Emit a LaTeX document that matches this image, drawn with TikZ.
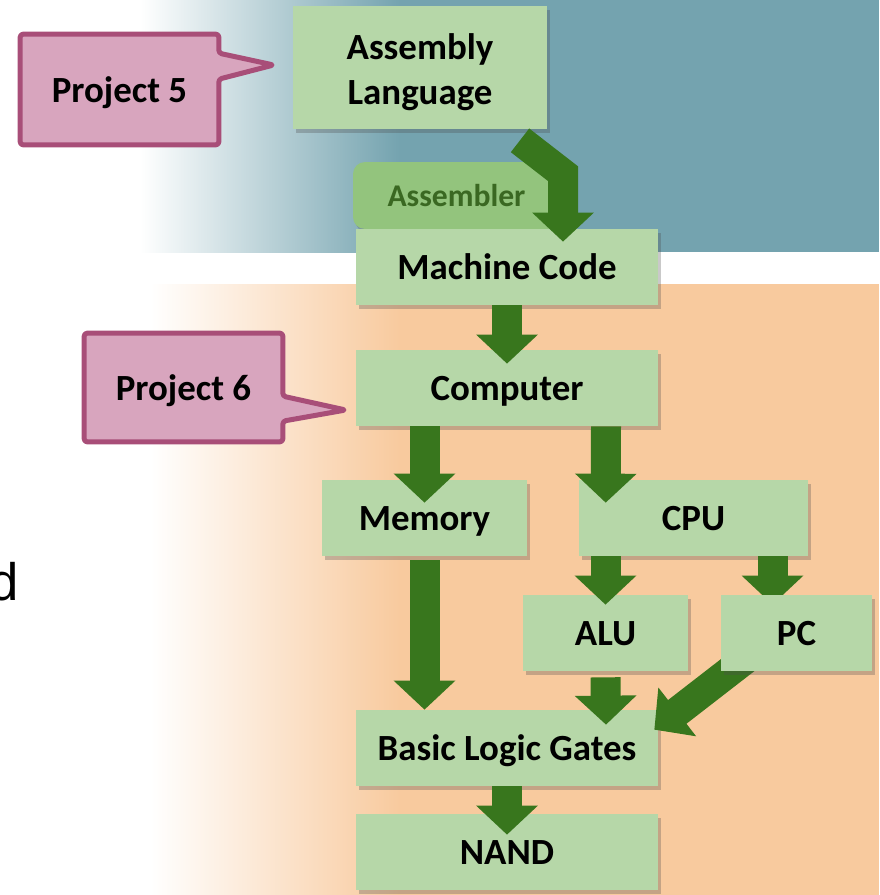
\documentclass[tikz,border=0pt]{standalone}
\usepackage{fontspec}
\setmainfont{Carlito}
\newfontfamily\slidefont{Liberation Sans}
\usepackage{tikz}
\usetikzlibrary{arrows.meta,positioning,calc,shadows}
\definecolor{hwteal}{RGB}{116,163,175}
\definecolor{hwpeach}{RGB}{248,202,158}
\definecolor{hwgreen}{RGB}{182,215,168}
\definecolor{hwasm}{RGB}{147,196,125}
\definecolor{hwasmtext}{RGB}{58,104,34}
\definecolor{hwarrow}{RGB}{56,118,29}
\definecolor{hwpink}{RGB}{216,165,190}
\definecolor{hwpinkedge}{RGB}{168,78,120}
\pgfdeclarelayer{back}
\pgfdeclarelayer{front}
\pgfsetlayers{back,main,front}
\tikzset{
  hwbox/.style={
    fill=hwgreen, minimum height=1.52cm, inner sep=0pt, align=center,
    font=\fontsize{21}{25.6}\selectfont\bfseries,
    drop shadow={shadow xshift=0.06cm, shadow yshift=-0.08cm, opacity=0.3, fill=black!70}
  },
  oneline/.style={hwbox, text height=20pt, text depth=5.25pt},
  asmb/.style={
    fill=hwasm, rounded corners=0.24cm, minimum height=1.34cm, inner sep=0pt,
    font=\fontsize{18}{22}\selectfont\bfseries, text=hwasmtext,
    drop shadow={shadow xshift=0.04cm, shadow yshift=-0.06cm, opacity=0.25, fill=black!70}
  },
  note/.style={
    minimum width=3.96cm, inner sep=0pt, text height=20pt, text depth=5.25pt,
    font=\fontsize{21}{25.6}\selectfont\bfseries
  },
  noteline/.style={
    draw=hwpinkedge, fill=hwpink, line width=0.1cm, line join=round, rounded corners=0.06cm
  },
  bigarr/.style={
    draw=hwarrow, line width=0.6cm, line join=miter,
    -{Triangle[length=0.58cm,width=1.2cm]}
  }
}
\begin{document}
\begin{tikzpicture}[x=0.02cm, y=-0.02cm]
  \useasboundingbox (0,0) rectangle (879,895);
  % slide background
  \begin{pgfonlayer}{back}
    \fill[hwteal] (399,0) rectangle (879,252);
    \shade[left color=white, right color=hwteal] (140,0) rectangle (400,252);
    \fill[hwpeach] (399,284) rectangle (879,895);
    \shade[left color=white, right color=hwpeach] (150,284) rectangle (400,895);
  \end{pgfonlayer}
  \node[anchor=base east, inner sep=0pt, font=\slidefont\fontsize{30}{36}\selectfont] (cut) at (19,600) {d};

  % levels
  \node[asmb, minimum width=4.14cm] (asmr) at (456.5,195.5) {Assembler};
  \node[hwbox, minimum width=5.08cm, minimum height=2.46cm] (asm) at (420,67.5) {\rule{0pt}{20pt}Assembly\\Language};
  \node[oneline, minimum width=6.04cm] (mc) at (507,267) {Machine Code};
  \node[oneline, minimum width=6.04cm] (comp) at (507,388) {Computer};
  \node[oneline, minimum width=4.1cm] (mem) at (424.5,518) {Memory};
  \node[oneline, minimum width=4.58cm] (cpu) at (693.5,518) {CPU};
  \node[oneline, minimum width=3.3cm] (alu) at (605.5,633) {ALU};
  \begin{pgfonlayer}{front}
    \node[oneline, minimum width=3.02cm] (pc) at (796.5,633) {PC};
  \end{pgfonlayer}
  \node[oneline, minimum width=6.04cm] (blg) at (507,748) {Basic Logic Gates};
  \node[oneline, minimum width=6.04cm] (nand) at (507,852) {NAND};

  % flow
  \draw[bigarr] ($(asm.south)+(100,11)$) -- ($(mc.north)+(56,-55)$) -- ($(mc.north)+(56,13)$);
  \draw[bigarr] (mc.south) -- ($(comp.north)+(0,14)$);
  \draw[bigarr] (mem.north |- comp.south) -- ($(mem.north)+(0,23)$);
  \draw[bigarr] ($(comp.south)+(99,0)$) -- ($(cpu.north west)+(27,23)$);
  \draw[bigarr] ($(mem.south)+(0,4)$) -- (mem.south |- blg.north);
  \draw[bigarr] (alu.north |- cpu.south) -- ($(alu.north)+(0,10)$);
  \draw[bigarr] ($(pc.north |- cpu.south)+(-24,0)$) -- ($(pc.north)+(-24,10)$);
  \draw[bigarr] ($(alu.south)+(0,6)$) -- ($(blg.north)+(99,15)$);
  \draw[bigarr] ($(pc.south west)+(27,-14)$) -- ($(blg.north east)+(-4,20)$);
  \draw[bigarr] (blg.south) -- ($(nand.north)+(0,21)$);

  % project callouts
  \node[note, minimum height=2.2cm] (p5) at (119.5,89.5) {Project 5};
  \node[note, minimum height=2.16cm] (p6) at (183.5,387.5) {Project 6};
  \begin{pgfonlayer}{back}
    \draw[noteline] (p5.north west) -- (p5.north east) -- ++(0,19)
      -- ($(asm.west)+(-19,-2.5)$) -- ($(p5.north east)+(0,45)$)
      -- (p5.south east) -- (p5.south west) -- cycle;
    \draw[noteline] (p6.north west) -- (p6.north east) -- ++(0,63)
      -- ($(comp.west)+(-10,22)$) -- ($(p6.north east)+(0,88)$)
      -- (p6.south east) -- (p6.south west) -- cycle;
  \end{pgfonlayer}
\end{tikzpicture}
\end{document}
